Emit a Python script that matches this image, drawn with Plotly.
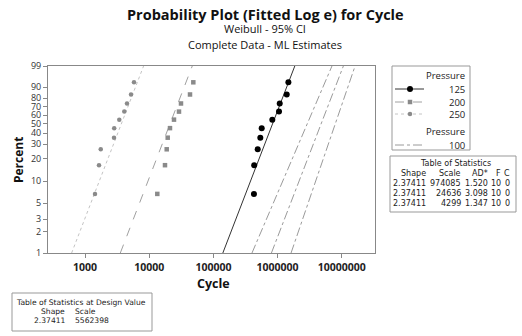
import numpy as np
import plotly.graph_objects as go

# ---------------- data ----------------
plot_percent = [6.73, 16.35, 25.96, 35.58, 45.19, 54.81, 64.42, 74.04, 83.65, 93.27]
cycles_125 = [428000, 432000, 489800, 538000, 565300, 827500, 1052000, 1079000, 1387000, 1472000]
cycles_200 = [13370, 17620, 18740, 19420, 21080, 24330, 29110, 31270, 43220, 48670]
cycles_250 = [1431, 1652, 1759, 2831, 2850, 3420, 4092, 4508, 5209, 5795]

pressures = ["125", "200", "250"]
shape = 2.37411
scales = [974085, 24636, 4299]
ad_stats = ["1.520", "3.098", "1.347"]
n_fail = [10, 10, 10]
n_cens = [0, 0, 0]

design_pressure = "100"
design_scale = 5562398
# 95% CI bounds for design value line, at 1% and 99%
ci_percent = [1, 99]
ci_lower_100 = [399000, 7030000]
ci_upper_100 = [1620000, 16100000]

y_tick_pct = [1, 2, 3, 5, 10, 20, 30, 40, 50, 60, 70, 80, 90, 99]
x_tick_vals = [1000, 10000, 100000, 1000000, 10000000]
x_tick_text = ["1000", "10000", "100000", "1000000", "10000000"]


def wtr(pct):
    p = np.asarray(pct, dtype=float) / 100.0
    return np.log(-np.log(1.0 - p))


def fit_line(scale, pcts=(1, 99)):
    p = np.asarray(pcts, dtype=float) / 100.0
    return scale * (-np.log(1.0 - p)) ** (1.0 / shape)


FONT = "Open Sans"
TFONT = "DejaVu Sans"
fig = go.Figure()

styles = {
    "125": dict(color="#000000", msym="circle", msize=6, lcolor="#333333", dash="solid", lw=1),
    "200": dict(color="#8a8a8a", msym="square", msize=4.5, lcolor="#a0a0a0", dash="dash", lw=1),
    "250": dict(color="#8a8a8a", msym="circle", msize=4.5, lcolor="#c4c4c4", dash="dot", lw=1),
}
pts = {"125": cycles_125, "200": cycles_200, "250": cycles_250}

for i, pr in enumerate(pressures):
    st = styles[pr]
    fig.add_trace(go.Scatter(
        x=fit_line(scales[i]), y=wtr([1, 99]), mode="lines",
        line=dict(color=st["lcolor"], dash=st["dash"], width=st["lw"]),
        showlegend=False, hoverinfo="skip"))
    fig.add_trace(go.Scatter(
        x=pts[pr], y=wtr(plot_percent), mode="markers", name=pr,
        marker=dict(color=st["color"], symbol=st["msym"], size=st["msize"]),
        showlegend=False))

DV = dict(color="#9a9a9a", dash="dashdot", width=1)
fig.add_trace(go.Scatter(x=fit_line(design_scale), y=wtr([1, 99]), mode="lines", line=DV, showlegend=False))
fig.add_trace(go.Scatter(x=ci_lower_100, y=wtr(ci_percent), mode="lines", line=DV, showlegend=False))
fig.add_trace(go.Scatter(x=ci_upper_100, y=wtr(ci_percent), mode="lines", line=DV, showlegend=False))

L, R, T, B = 48, 147, 66, 83
W, H = 522, 336
pw, ph = W - L - R, H - T - B


def px(x):
    return (x - L) / pw


def py(y):
    return 1 - (y - T) / ph


ann = []


def add_text(text, x, y, size, family=FONT, xanchor="center", color="#111", angle=0):
    ann.append(dict(text=text, x=px(x), y=py(y), xref="paper", yref="paper", showarrow=False,
                    xanchor=xanchor, yanchor="middle", textangle=angle,
                    font=dict(size=size, family=family, color=color)))


# titles
add_text("<b>Probability Plot (Fitted Log e) for Cycle</b>", 265, 14, 14.5)
add_text("Weibull - 95% CI", 265, 28, 11)
add_text("Complete Data - ML Estimates", 265, 44, 11)
# axis titles
add_text("<b>Percent</b>", 18, 160, 12, angle=-90)
add_text("<b>Cycle</b>", 213, 283, 12.5)

shapes = []
# ---- legend (manual) ----
shapes.append(dict(type="rect", xref="paper", yref="paper", x0=px(392), x1=px(470), y0=py(66), y1=py(150),
                   line=dict(color="#999", width=1)))
lf = 9.5
add_text("Pressure", 467, 75, lf, xanchor="right", color="#222")
leg_rows = [("125", 89), ("200", 102), ("250", 114)]
for pr, yy in leg_rows:
    st = styles[pr]
    shapes.append(dict(type="line", xref="paper", yref="paper", x0=px(395), x1=px(424), y0=py(yy), y1=py(yy),
                       line=dict(color=st["lcolor"], dash=st["dash"], width=1)))
    r = st["msize"] / 2
    shapes.append(dict(type="circle" if st["msym"] == "circle" else "rect", xref="paper", yref="paper",
                       x0=px(410 - r), x1=px(410 + r), y0=py(yy - r), y1=py(yy + r),
                       line=dict(width=0), fillcolor=st["color"]))
    add_text(pr, 467, yy, lf, xanchor="right", color="#222")
add_text("Pressure", 467, 131, lf, xanchor="right", color="#222")
shapes.append(dict(type="line", xref="paper", yref="paper", x0=px(395), x1=px(424), y0=py(145), y1=py(145),
                   line=DV))
add_text(design_pressure, 467, 145, lf, xanchor="right", color="#222")

# ---- Table of statistics ----
tsz = 8
add_text("Table of Statistics", 455, 163, tsz, family=TFONT, color="#222")
cols_right = [428, 463, 490, 503, 512]
heads = ["Shape", "Scale", "AD*", "F", "C"]
for cx, h in zip(cols_right, heads):
    add_text(h, cx, 173, tsz, family=TFONT, xanchor="right", color="#222")
for r in range(3):
    yy = 183 + 10 * r
    vals = [f"{shape:.5f}", f"{scales[r]}", ad_stats[r], str(n_fail[r]), str(n_cens[r])]
    for cx, v in zip(cols_right, vals):
        add_text(v, cx, yy, tsz, family=TFONT, xanchor="right", color="#222")
shapes.append(dict(type="rect", xref="paper", yref="paper", x0=px(390), x1=px(516), y0=py(156), y1=py(212),
                   line=dict(color="#999", width=1)))

# ---- Design value table ----
dsz = 7.6
add_text("Table of Statistics at Design Value", 81, 302, dsz, family=TFONT, color="#222")
add_text("Shape", 67, 311, dsz, family=TFONT, xanchor="right", color="#222")
add_text("Scale", 98, 311, dsz, family=TFONT, xanchor="right", color="#222")
add_text(f"{shape:.5f}", 68, 320, dsz, family=TFONT, xanchor="right", color="#222")
add_text(f"{design_scale}", 73, 320, dsz, family=TFONT, xanchor="left", color="#222")
shapes.append(dict(type="rect", xref="paper", yref="paper", x0=px(12), x1=px(152), y0=py(293), y1=py(331),
                   line=dict(color="#999", width=1)))

fig.update_layout(
    width=W, height=H,
    margin=dict(l=L, r=R, t=T, b=B, autoexpand=False),
    paper_bgcolor="white", plot_bgcolor="white",
    font=dict(family=FONT, size=10, color="#222"),
    annotations=ann, shapes=shapes,
    showlegend=False,
)
fig.update_xaxes(type="log", range=[np.log10(1000) - 37 / 64.2, np.log10(1000) + 290 / 64.2],
                 tickvals=x_tick_vals, ticktext=x_tick_text,
                 tickfont=dict(size=10.5, family=FONT, weight="bold", color="#222"),
                 showgrid=False, zeroline=False, showline=True, mirror=True,
                 linecolor="#888", linewidth=1, ticks="outside", ticklen=4, tickcolor="#888")
fig.update_yaxes(range=[float(wtr(1)), float(wtr(99))], tickvals=wtr(y_tick_pct),
                 ticktext=[str(v) for v in y_tick_pct],
                 tickfont=dict(size=9, family=FONT, color="#333"),
                 showgrid=False, zeroline=False, showline=True, mirror=True,
                 linecolor="#888", linewidth=1, ticks="outside", ticklen=4, tickcolor="#888")

fig.write_html("out.html", config={"displayModeBar": False},
               post_script="document.body.style.margin='0';document.body.style.padding='0';")
